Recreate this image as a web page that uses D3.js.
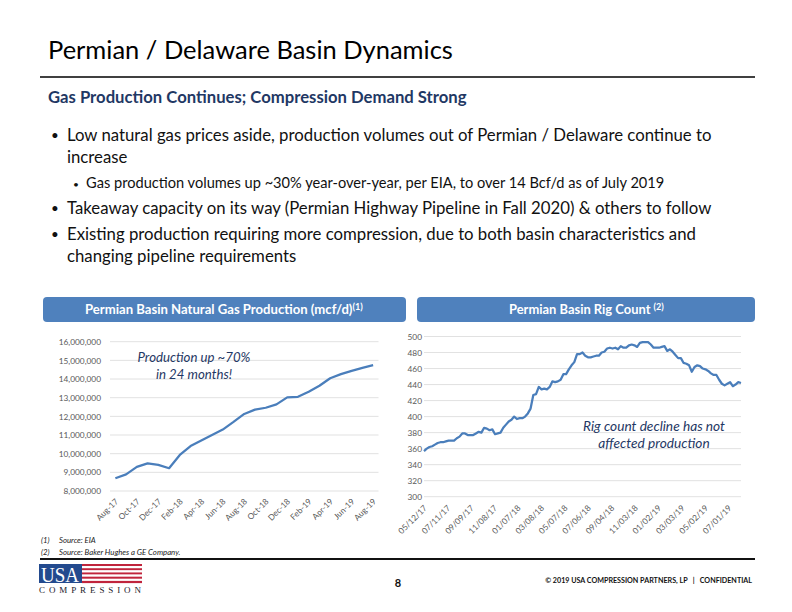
<!DOCTYPE html>
<html><head><meta charset="utf-8">
<script src="https://cdn.jsdelivr.net/npm/d3@7"></script>
<style>
html,body{margin:0;padding:0;background:#fff;}
svg{display:block;font-family:Lato,"Open Sans",sans-serif;}
</style></head>
<body>
<script>
// ---------- DATA ----------
const prodMonths = ["Aug-17","Sep-17","Oct-17","Nov-17","Dec-17","Jan-18","Feb-18","Mar-18","Apr-18","May-18","Jun-18","Jul-18","Aug-18","Sep-18","Oct-18","Nov-18","Dec-18","Jan-19","Feb-19","Mar-19","Apr-19","May-19","Jun-19","Jul-19","Aug-19"];
const prodValues = [8680000,8890000,9290000,9480000,9400000,9220000,9930000,10410000,10710000,11000000,11290000,11700000,12130000,12360000,12460000,12640000,13020000,13050000,13320000,13640000,14040000,14260000,14440000,14600000,14740000];
const prodTicks = [8000000,9000000,10000000,11000000,12000000,13000000,14000000,15000000,16000000];

const rigStart = "05/12/17";
const rigValues = [357,360,362,363,365,367,368,368,369,370,370,370,373,375,379,379,377,377,377,379,381,380,386,385,383,384,378,379,380,386,390,394,396,400,397,398,398,400,404,410,427,428,437,434,435,434,437,444,443,444,446,453,453,459,464,468,478,478,480,476,474,474,475,476,476,480,481,485,486,485,486,484,488,486,486,489,490,489,487,492,493,493,493,490,486,486,486,487,488,482,484,481,477,473,473,467,466,464,456,462,464,463,460,459,457,454,452,452,446,441,439,441,443,438,440,443,442];
const rigTicks = [300,320,340,360,380,400,420,440,460,480,500];
const rigTickLabels = ["05/12/17","07/11/17","09/09/17","11/08/17","01/07/18","03/08/18","05/07/18","07/06/18","09/04/18","11/03/18","01/02/19","03/03/19","05/02/19","07/01/19"];

const bullets = [
  {level:1, lines:["Low natural gas prices aside, production volumes out of Permian / Delaware continue to","increase"]},
  {level:2, lines:["Gas production volumes up ~30% year-over-year, per EIA, to over 14 Bcf/d as of July 2019"]},
  {level:1, lines:["Takeaway capacity on its way (Permian Highway Pipeline in Fall 2020) & others to follow"]},
  {level:1, lines:["Existing production requiring more compression, due to both basin characteristics and","changing pipeline requirements"]}
];

// ---------- SETUP ----------
const W = 792, H = 612;
const svg = d3.select("body").append("svg").attr("width", W).attr("height", H);
const LINE = "#4A7EBB", NAVY = "#1F3864", GRID = "#D9D9D9", TICK = "#595959";
const TFS = 8.3;

function fit(sel, width, base) {
  base = base || 20;
  sel.attr("font-size", base);
  const w = sel.node().getComputedTextLength();
  const fs = base * width / w;
  sel.attr("font-size", fs);
  return fs;
}

// ---------- HEADER ----------
fit(svg.append("text").attr("x", 48).attr("y", 59).attr("fill", "#000")
  .text("Permian / Delaware Basin Dynamics"), 405);
svg.append("line").attr("x1", 40).attr("x2", 755).attr("y1", 77).attr("y2", 77)
  .attr("stroke", "#000").attr("stroke-width", 1.6);
fit(svg.append("text").attr("x", 48).attr("y", 103).attr("fill", NAVY).attr("font-weight", "bold")
  .text("Gas Production Continues; Compression Demand Strong"), 419);

// ---------- BULLETS ----------
const bulletY = [[141,163],[188],[214],[240,262]];
const tmp = svg.append("text").text(bullets[0].lines[0]);
const fs1 = fit(tmp, 645); tmp.remove();
const tmp2 = svg.append("text").text(bullets[1].lines[0]);
const fs2 = fit(tmp2, 579); tmp2.remove();
bullets.forEach((b, i) => {
  const fs = b.level === 1 ? fs1 : fs2;
  const bx = b.level === 1 ? 51 : 73;
  const tx = b.level === 1 ? 67 : 86;
  svg.append("text").attr("x", bx).attr("y", bulletY[i][0] - (b.level === 1 ? 1 : 0.5))
    .attr("font-size", fs * (b.level === 1 ? 0.8 : 0.7))
    .attr("fill", "#111").text("•");
  b.lines.forEach((ln, j) => {
    svg.append("text").attr("x", tx).attr("y", bulletY[i][j]).attr("font-size", fs)
      .attr("fill", "#111").text(ln);
  });
});

// ---------- CHART HEADER BOXES ----------
function headerBox(x0, x1, title, sup, tx0, tx1) {
  svg.append("rect").attr("x", x0).attr("y", 297).attr("width", x1 - x0).attr("height", 25)
    .attr("rx", 4).attr("fill", "#4F81BD");
  const t = svg.append("text").attr("x", tx0).attr("y", 314).attr("fill", "#fff").attr("font-weight", "bold");
  t.append("tspan").text(title);
  const s = t.append("tspan").attr("dy", -4).attr("font-size", "0.7em").text(sup);
  const fs = fit(t, tx1 - tx0, 12);
  s.attr("font-size", fs * 0.7);
}
headerBox(43, 406, "Permian Basin Natural Gas Production (mcf/d)", "(1)", 85, 363);
headerBox(417, 755, "Permian Basin Rig Count ", "(2)", 509, 664);

// ---------- LEFT CHART ----------
const gL = svg.append("g");
const xL = d3.scalePoint().domain(prodMonths).range([110, 378.5]).padding(0.5);
const yL = d3.scaleLinear().domain([8000000, 16000000]).range([491, 341.7]);
gL.append("g").selectAll("line").data(prodTicks).join("line")
  .attr("x1", 110).attr("x2", 378.5).attr("y1", d => yL(d)).attr("y2", d => yL(d))
  .attr("stroke", GRID).attr("stroke-width", 0.8);
const yAxisL = d3.axisLeft(yL).tickValues(prodTicks).tickFormat(d3.format(",")).tickSize(0).tickPadding(0);
gL.append("g").attr("transform", "translate(101,0)").call(yAxisL)
  .call(g => g.select(".domain").remove())
  .selectAll("text").attr("fill", TICK).attr("font-size", TFS).attr("font-family", "Lato");
const xAxisL = d3.axisBottom(xL).tickValues(prodMonths.filter((d, i) => i % 2 === 0)).tickSize(0);
gL.append("g").attr("transform", "translate(0,491)").call(xAxisL)
  .call(g => g.select(".domain").remove())
  .selectAll("text").attr("fill", TICK).attr("font-size", TFS).attr("font-family", "Lato")
  .attr("text-anchor", "end").attr("dy", 0).attr("y", 0)
  .attr("transform", "translate(3,11) rotate(-45)");
gL.append("path").datum(prodValues)
  .attr("d", d3.line().x((d, i) => xL(prodMonths[i])).y(d => yL(d)))
  .attr("fill", "none").attr("stroke", LINE).attr("stroke-width", 2.25).attr("stroke-linejoin", "round");
const aL1 = gL.append("text").attr("x", 194).attr("y", 362).attr("text-anchor", "middle")
  .attr("font-style", "italic").attr("fill", NAVY).text("Production up ~70%");
const fsA = fit(aL1, 113, 13);
gL.append("text").attr("x", 194).attr("y", 379).attr("text-anchor", "middle").attr("font-size", fsA)
  .attr("font-style", "italic").attr("fill", NAVY).text("in 24 months!");

// ---------- RIGHT CHART ----------
const gR = svg.append("g");
const parse = d3.timeParse("%m/%d/%y");
const t0 = parse(rigStart);
const rigDates = rigValues.map((v, i) => d3.timeDay.offset(t0, 7 * i));
const xR = d3.scaleTime().domain([t0, rigDates[rigDates.length - 1]]).range([424, 741]);
const yR = d3.scaleLinear().domain([300, 500]).range([496.7, 336.5]);
gR.append("g").selectAll("line").data(rigTicks).join("line")
  .attr("x1", 424).attr("x2", 741).attr("y1", d => yR(d)).attr("y2", d => yR(d))
  .attr("stroke", GRID).attr("stroke-width", 0.8);
gR.append("g").attr("transform", "translate(422,0)")
  .call(d3.axisLeft(yR).tickValues(rigTicks).tickSize(0).tickPadding(0))
  .call(g => g.select(".domain").remove())
  .selectAll("text").attr("fill", TICK).attr("font-size", TFS).attr("font-family", "Lato");
const rigTickDates = rigTickLabels.map(parse);
gR.append("g").attr("transform", "translate(0,496.7)")
  .call(d3.axisBottom(xR).tickValues(rigTickDates).tickFormat(d3.timeFormat("%m/%d/%y")).tickSize(0))
  .call(g => g.select(".domain").remove())
  .selectAll("text").attr("fill", TICK).attr("font-size", TFS).attr("font-family", "Lato")
  .attr("text-anchor", "end").attr("dy", 0).attr("y", 0)
  .attr("transform", "translate(3,12) rotate(-45)");
gR.append("path").datum(rigValues)
  .attr("d", d3.line().x((d, i) => xR(rigDates[i])).y(d => yR(d)))
  .attr("fill", "none").attr("stroke", LINE).attr("stroke-width", 2.25).attr("stroke-linejoin", "round");
const aR1 = gR.append("text").attr("x", 654).attr("y", 431).attr("text-anchor", "middle")
  .attr("font-style", "italic").attr("fill", NAVY).text("Rig count decline has not");
const fsB = fit(aR1, 142, 13);
gR.append("text").attr("x", 654).attr("y", 448).attr("text-anchor", "middle").attr("font-size", fsB)
  .attr("font-style", "italic").attr("fill", NAVY).text("affected production");

// ---------- FOOTNOTES ----------
const fn = [["(1)", "Source: EIA", 543], ["(2)", "Source: Baker Hughes a GE Company.", 555]];
fn.forEach(f => {
  svg.append("text").attr("x", 41).attr("y", f[2]).attr("font-size", 7.8).attr("font-style", "italic")
    .attr("fill", "#222").text(f[0]);
  svg.append("text").attr("x", 59).attr("y", f[2]).attr("font-size", 7.8).attr("font-style", "italic")
    .attr("fill", "#222").text(f[1]);
});
svg.append("line").attr("x1", 40).attr("x2", 755).attr("y1", 559).attr("y2", 559)
  .attr("stroke", "#111").attr("stroke-width", 2);

// ---------- FOOTER ----------
const logo = svg.append("g");
logo.append("rect").attr("x", 39).attr("y", 564).attr("width", 43).attr("height", 19).attr("fill", "#234A8E");
const stripes = d3.range(9);
logo.selectAll("rect.s").data(stripes).join("rect").attr("class", "s")
  .attr("x", 82).attr("width", 60).attr("y", i => 564 + i * 19 / 9).attr("height", 19 / 9 + 0.1)
  .attr("fill", i => i % 2 === 0 ? "#C0243C" : "#fff");
logo.append("text").attr("x", 41).attr("y", 582).attr("font-family", "Liberation Serif, serif")
  .attr("font-size", 20).attr("fill", "#fff").attr("textLength", 38).attr("lengthAdjust", "spacingAndGlyphs").text("USA");
logo.append("text").attr("x", 39).attr("y", 593).attr("font-family", "Liberation Serif, serif")
  .attr("font-size", 9).attr("fill", "#1a1a2a").attr("textLength", 102).text("COMPRESSION");
svg.append("text").attr("x", 398).attr("y", 587).attr("text-anchor", "middle").attr("font-size", 11)
  .attr("font-weight", "bold").attr("fill", "#111").text("8");
const ft = svg.append("text").attr("x", 752).attr("y", 583).attr("text-anchor", "end")
  .attr("font-weight", "bold").attr("fill", "#111").text("© 2019 USA COMPRESSION PARTNERS, LP   |   CONFIDENTIAL")
  .attr("xml:space", "preserve").style("white-space", "pre");
fit(ft, 207, 8);
</script>
</body></html>
